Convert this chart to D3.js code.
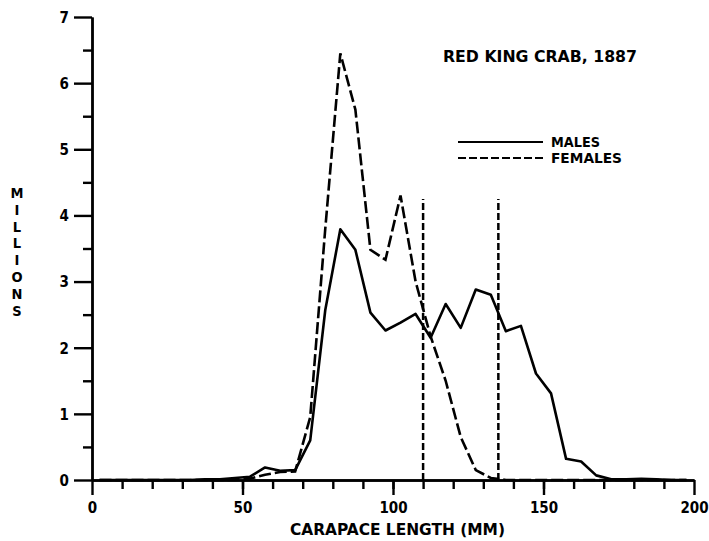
<!DOCTYPE html>
<html>
<head>
<meta charset="utf-8">
<script src="https://cdn.jsdelivr.net/npm/d3@7"></script>
<style>
  body { margin: 0; background: #fff; }
  svg text { font-family: "DejaVu Sans Condensed", "DejaVu Sans", sans-serif; font-weight: bold; fill: #000; }
</style>
</head>
<body>
<div id="chart"></div>
<script>
// carapace length bin midpoints (mm)
const lengths = d3.range(2.5, 200, 5);

// abundance in millions
const males = [0, 0, 0, 0, 0, 0, 0, 0.01, 0.01, 0.03,
  0.05, 0.19, 0.14, 0.15, 0.6, 2.57, 3.79, 3.48, 2.53, 2.26,
  2.38, 2.51, 2.15, 2.66, 2.3, 2.88, 2.8, 2.25, 2.33, 1.61,
  1.31, 0.32, 0.28, 0.07, 0.01, 0.01, 0.02, 0.01, 0, 0];
const females = [0, 0, 0, 0, 0, 0, 0, 0, 0, 0,
  0.02, 0.08, 0.12, 0.13, 0.95, 3.8, 6.45, 5.6, 3.48, 3.33,
  4.3, 3.0, 2.17, 1.5, 0.65, 0.15, 0.03, 0, 0, 0,
  0, 0, 0, 0, 0, 0, 0, 0, 0, 0];

// vertical reference lines (mm) and their height
const refLines = [110, 135];
const refTop = 4.25;

const xMajor = [0, 50, 100, 150, 200];
const yMajor = [0, 1, 2, 3, 4, 5, 6, 7];

const width = 709, height = 541;

const x = d3.scaleLinear().domain([0, 200]).range([92, 694]);
const y = d3.scaleLinear().domain([0, 7]).range([480, 17]);

const svg = d3.select("#chart").append("svg")
  .attr("width", width)
  .attr("height", height);

// y axis: minor ticks then major ticks with labels
svg.append("g")
  .attr("transform", `translate(${x(0)},0)`)
  .call(d3.axisLeft(y).tickValues(d3.range(0.5, 7, 1)).tickSize(9).tickSizeOuter(0).tickFormat(""));
const yAxis = svg.append("g")
  .attr("transform", `translate(${x(0)},0)`)
  .call(d3.axisLeft(y).tickValues(yMajor).tickSize(18).tickSizeOuter(0).tickPadding(5).tickFormat(d3.format("d")));

// x axis
svg.append("g")
  .attr("transform", `translate(0,${y(0)})`)
  .call(d3.axisBottom(x).tickValues(d3.range(10, 200, 10)).tickSize(9).tickSizeOuter(0).tickFormat(""));
const xAxis = svg.append("g")
  .attr("transform", `translate(0,${y(0)})`)
  .call(d3.axisBottom(x).tickValues(xMajor).tickSize(15).tickSizeOuter(0).tickPadding(4).tickFormat(d3.format("d")));

svg.selectAll(".domain, .tick line")
  .attr("stroke", "#000")
  .attr("stroke-width", 2.4);
yAxis.selectAll("text").attr("font-size", 15).attr("dy", "0.36em");
xAxis.selectAll("text").attr("font-size", 15).attr("dy", "0.9em");

// reference lines
svg.append("g").selectAll("line")
  .data(refLines)
  .join("line")
    .attr("x1", d => x(d)).attr("x2", d => x(d))
    .attr("y1", y(0)).attr("y2", y(refTop))
    .attr("stroke", "#000")
    .attr("stroke-width", 2.5)
    .attr("stroke-dasharray", "7,3");

const line = d3.line()
  .x((d, i) => x(lengths[i]))
  .y(d => y(d));

svg.append("path")
  .datum(males)
  .attr("fill", "none")
  .attr("stroke", "#000")
  .attr("stroke-width", 2.6)
  .attr("stroke-linejoin", "round")
  .attr("d", line);

svg.append("path")
  .datum(females)
  .attr("fill", "none")
  .attr("stroke", "#000")
  .attr("stroke-width", 2.6)
  .attr("stroke-dasharray", "12,4")
  .attr("d", line);

// title
svg.append("text")
  .attr("x", 443).attr("y", 62)
  .attr("font-size", 15)
  .attr("textLength", 194).attr("lengthAdjust", "spacingAndGlyphs")
  .text("RED KING CRAB, 1887");

// legend
const legend = svg.append("g");
legend.append("line")
  .attr("x1", 458).attr("x2", 543).attr("y1", 142).attr("y2", 142)
  .attr("stroke", "#000").attr("stroke-width", 2.2);
legend.append("line")
  .attr("x1", 458).attr("x2", 543).attr("y1", 158).attr("y2", 158)
  .attr("stroke", "#000").attr("stroke-width", 2.2)
  .attr("stroke-dasharray", "8,3");
legend.append("text")
  .attr("x", 551).attr("y", 147).attr("font-size", 14)
  .attr("textLength", 49).attr("lengthAdjust", "spacingAndGlyphs")
  .text("MALES");
legend.append("text")
  .attr("x", 551).attr("y", 163).attr("font-size", 14)
  .attr("textLength", 71).attr("lengthAdjust", "spacingAndGlyphs")
  .text("FEMALES");

// axis titles
svg.append("text")
  .attr("x", 290).attr("y", 535)
  .attr("font-size", 15)
  .attr("textLength", 215).attr("lengthAdjust", "spacingAndGlyphs")
  .text("CARAPACE LENGTH (MM)");

svg.append("g").selectAll("text")
  .data("MILLIONS".split(""))
  .join("text")
    .attr("x", 17)
    .attr("y", (d, i) => 198 + i * 16.8)
    .attr("text-anchor", "middle")
    .attr("font-size", 14.5)
    .text(d => d);
</script>
</body>
</html>
